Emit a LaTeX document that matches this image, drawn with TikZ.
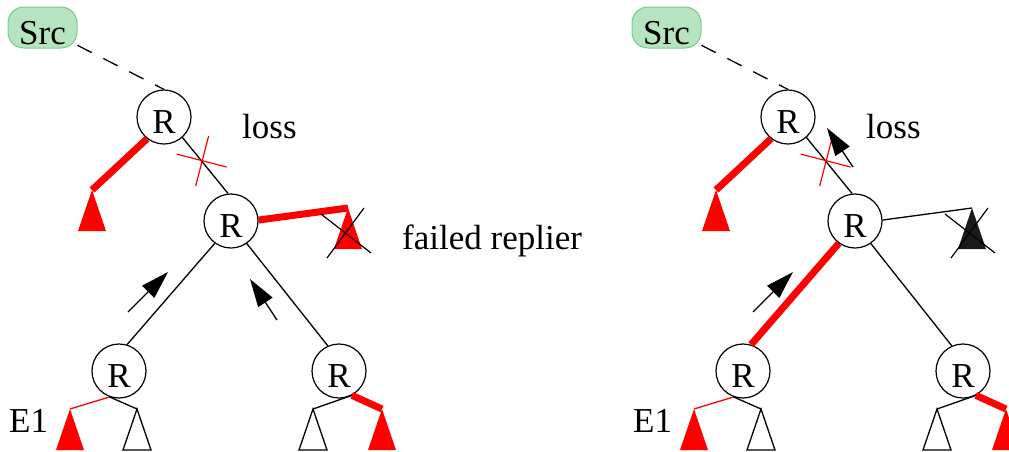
\documentclass[tikz,border=0pt]{standalone}
\usepackage{fontspec}
\setmainfont{Liberation Serif}
\usetikzlibrary{arrows.meta}

\definecolor{srcfill}{RGB}{181,228,191}
\definecolor{srcline}{RGB}{120,200,136}
\definecolor{deadgray}{RGB}{26,26,26}

\newcommand{\subtree}[2]{\path[#1] (#2) -- ++(-14,41) -- ++(28,0) -- cycle;}

\begin{document}
\begin{tikzpicture}[x=1pt, y=-1pt, font=\fontsize{35}{42}\selectfont,
    router/.style={circle, draw, fill=white, line width=1.2pt, minimum size=54pt, inner sep=0, text height=33pt, text depth=0pt},
    source/.style={draw=srcline, fill=srcfill, rounded corners=16pt, line width=1pt, minimum width=69pt, minimum height=41pt, inner sep=0, text height=33pt, text depth=0pt},
    link/.style={line width=1.3pt},
    repair/.style={red, line width=7pt},
    cutmark/.style={line width=1.2pt},
    flow/.style={line width=1.3pt, -{Triangle[length=28pt, width=17pt]}}]
  \useasboundingbox (0,0) rectangle (1009,451);

  % left tree
  \begin{scope}[name prefix=a-]
    \node [source] (src) at (42.5,27.5) {Src};
    \node [router] (r1) at (164,117) {R};
    \node [router] (r2) at (231,221) {R};
    \node [router] (r3) at (119,371) {R};
    \node [router] (r4) at (339,371) {R};
    \coordinate (tA) at (92,190);
    \coordinate (tF) at (348,208);
    \coordinate (tB) at (70,409);
    \coordinate (tC) at (137,409);
    \coordinate (tD) at (313,409);
    \coordinate (tE) at (382,409);

    \draw [link, dash pattern=on 16pt off 13pt] (src) -- (r1.north);
    \draw [link] (r1.-48) -- (r2.96) coordinate [pos=0.42] (lossx);
    \draw [cutmark, red] (lossx) ++(-25,-7) -- ++(50,13) (lossx) ++(-6,25) -- ++(13,-50);
    \draw [repair] (r1.-128) -- (tA);
    \draw [repair] (r2.2) -- (tF);
    \draw [link] (r2.-126) -- (r3.73);
    \draw [link] (r2.-55) -- (r4.114);
    \draw [link, red] (r3.-110) -- (tB);
    \draw [link] (r3.-110) -- (tC);
    \draw [link] (r4.-62) -- (tD);
    \draw [repair] (r4.-62) -- (tE);

    \subtree{fill=red}{tA}
    \subtree{fill=red}{tF}
    \subtree{fill=red}{tB}
    \subtree{draw, link, fill=white}{tC}
    \subtree{draw, link, fill=white}{tD}
    \subtree{fill=red}{tE}
    \draw [cutmark] (tF) ++(-27,6) -- ++(50,39) (tF) ++(-21,50) -- ++(37,-50);

    \draw [flow] (128,312) -- ++(40,-40);
    \draw [flow] (277,320) -- ++(-27,-41);

    \node [anchor=base west, inner sep=0] (loss) at (242,138) {loss};
    \node [anchor=base west, inner sep=0] (failed) at (402,249) {failed replier};
    \node [anchor=base west, inner sep=0] (e1) at (9,432) {E1};
  \end{scope}

  % right tree
  \begin{scope}[xshift=624pt, name prefix=b-]
    \node [source] (src) at (42.5,27.5) {Src};
    \node [router] (r1) at (164,117) {R};
    \node [router] (r2) at (231,221) {R};
    \node [router] (r3) at (119,371) {R};
    \node [router] (r4) at (339,371) {R};
    \coordinate (tA) at (92,190);
    \coordinate (tF) at (348,208);
    \coordinate (tB) at (70,409);
    \coordinate (tC) at (137,409);
    \coordinate (tD) at (313,409);
    \coordinate (tE) at (382,409);

    \draw [link, dash pattern=on 16pt off 13pt] (src) -- (r1.north);
    \draw [link] (r1.-48) -- (r2.96) coordinate [pos=0.42] (lossx);
    \draw [cutmark, red] (lossx) ++(-25,-7) -- ++(50,13) (lossx) ++(-6,25) -- ++(13,-50);
    \draw [repair] (r1.-128) -- (tA);
    \draw [link] (r2.2) -- (tF);
    \draw [repair] (r2.-126) -- (r3.73);
    \draw [link] (r2.-55) -- (r4.114);
    \draw [link, red] (r3.-110) -- (tB);
    \draw [link] (r3.-110) -- (tC);
    \draw [link] (r4.-62) -- (tD);
    \draw [repair] (r4.-62) -- (tE);

    \subtree{fill=red}{tA}
    \subtree{fill=deadgray}{tF}
    \subtree{fill=red}{tB}
    \subtree{draw, link, fill=white}{tC}
    \subtree{draw, link, fill=white}{tD}
    \subtree{fill=red}{tE}
    \draw [cutmark] (tF) ++(-27,6) -- ++(50,39) (tF) ++(-21,50) -- ++(37,-50);

    \draw [flow] (129,312) -- ++(40,-40);
    \draw [flow] (229,167) -- ++(-26,-39);

    \node [anchor=base west, inner sep=0] (loss) at (242,138) {loss};
    \node [anchor=base west, inner sep=0] (e1) at (9,432) {E1};
  \end{scope}
\end{tikzpicture}
\end{document}
